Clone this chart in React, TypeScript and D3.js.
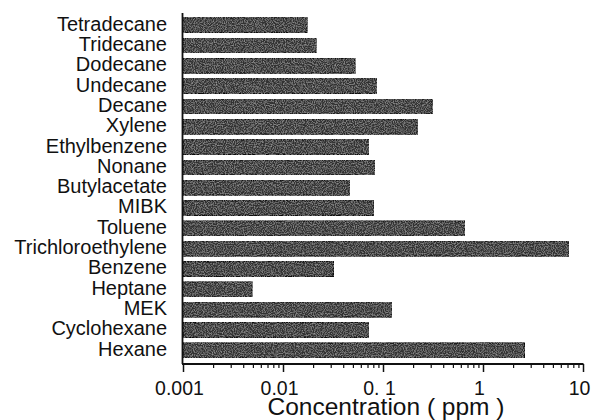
import { useRef, useEffect } from "react";
import * as d3 from "d3";

const compounds = [
  "Tetradecane",
  "Tridecane",
  "Dodecane",
  "Undecane",
  "Decane",
  "Xylene",
  "Ethylbenzene",
  "Nonane",
  "Butylacetate",
  "MIBK",
  "Toluene",
  "Trichloroethylene",
  "Benzene",
  "Heptane",
  "MEK",
  "Cyclohexane",
  "Hexane",
];

// concentration in ppm
const concentrations = [
  0.0174, 0.0214, 0.0525, 0.087, 0.31, 0.22, 0.072, 0.083, 0.046, 0.081, 0.66,
  7.2, 0.032, 0.0049, 0.123, 0.072, 2.6,
];

const tickValues = [0.001, 0.01, 0.1, 1, 10];
const tickLabels = ["0.001", "0.01", "0. 1", "1", "10"];

const width = 591,
  height = 420,
  marginLeft = 183,
  marginRight = 8,
  axisY = 364,
  font = "'Liberation Sans', Arial, Helvetica, sans-serif";

function App() {
  const gx = useRef<SVGGElement>(null),
    gxMinor = useRef<SVGGElement>(null),
    gy = useRef<SVGGElement>(null);

  const x = d3
    .scaleLog()
    .domain([0.001, 10])
    .range([marginLeft, width - marginRight]);

  const y = d3
    .scaleBand()
    .domain(compounds)
    .range([15, 360.5])
    .paddingInner(0.27)
    .paddingOuter(0.135);

  const minorTicks = d3.range(-3, 1).flatMap((e) =>
    d3.range(2, 10).map((m) => m * Math.pow(10, e))
  );

  useEffect(() => {
    d3.select(gx.current)
      .call(
        d3
          .axisBottom(x)
          .tickValues(tickValues)
          .tickSize(8)
          .tickPadding(9)
          .tickFormat((_, i) => tickLabels[i])
      )
      .call((g) => g.select(".domain").remove())
      .call((g) =>
        g
          .selectAll(".tick line")
          .attr("stroke", "#111")
          .attr("stroke-width", 1.5)
      )
      .call((g) =>
        g
          .selectAll(".tick text")
          .attr("font-family", font)
          .attr("font-size", 19.5)
          .attr("fill", "#111")
          .attr("dx", -4)
      );

    // minor ticks, no labels
    d3.select(gxMinor.current)
      .call(d3.axisBottom(x).tickValues(minorTicks).tickSize(4))
      .call((g) => g.select(".domain").remove())
      .call((g) => g.selectAll(".tick text").remove())
      .call((g) =>
        g.selectAll(".tick line").attr("stroke", "#111").attr("stroke-width", 1.2)
      );

    d3.select(gy.current)
      .call(d3.axisLeft(y).tickSize(0).tickPadding(16))
      .call((g) => g.select(".domain").remove())
      .call((g) =>
        g
          .selectAll(".tick text")
          .attr("font-family", font)
          .attr("font-size", 20)
          .attr("fill", "#111")
          .attr("dy", "0.27em")
      );
    // eslint-disable-next-line
  }, []);

  return (
    <svg
      width={width}
      height={height}
      viewBox={`0 0 ${width} ${height}`}
      style={{ position: "absolute", left: 0, top: 0, background: "#fff" }}
    >
      <defs>
        <filter id="grain" x="0" y="0" width="100%" height="100%">
          <feTurbulence type="fractalNoise" baseFrequency="0.9" numOctaves="2" seed="3" result="noise" />
          <feColorMatrix
            in="noise"
            type="matrix"
            values="0 0 0 0 0.55  0 0 0 0 0.55  0 0 0 0 0.55  0 0 0 1.1 -0.45"
            result="spots"
          />
          <feComposite in="spots" in2="SourceGraphic" operator="in" result="clipped" />
          <feMerge>
            <feMergeNode in="SourceGraphic" />
            <feMergeNode in="clipped" />
          </feMerge>
        </filter>
      </defs>
      <g>
        {compounds.map((c, i) => (
          <rect
            key={c}
            x={x(0.001)}
            y={y(c)}
            width={x(concentrations[i]) - x(0.001)}
            height={y.bandwidth()}
            fill="#303030"
            stroke="#111"
            strokeWidth={1.2}
            filter="url(#grain)"
          />
        ))}
      </g>
      <line x1={182.5} x2={182.5} y1={13} y2={axisY} stroke="#111" strokeWidth={1.8} />
      <line x1={182} x2={x(10) + 0.5} y1={axisY} y2={axisY} stroke="#111" strokeWidth={1.8} />
      <g ref={gxMinor} transform={`translate(0,${axisY})`} />
      <g ref={gx} transform={`translate(0,${axisY})`} />
      <g ref={gy} transform={`translate(${marginLeft},0)`} />
      <text
        x={386}
        y={415}
        textAnchor="middle"
        fontFamily={font}
        fontSize={24.5}
        fill="#111"
      >
        Concentration ( ppm )
      </text>
    </svg>
  );
}

export default App;
